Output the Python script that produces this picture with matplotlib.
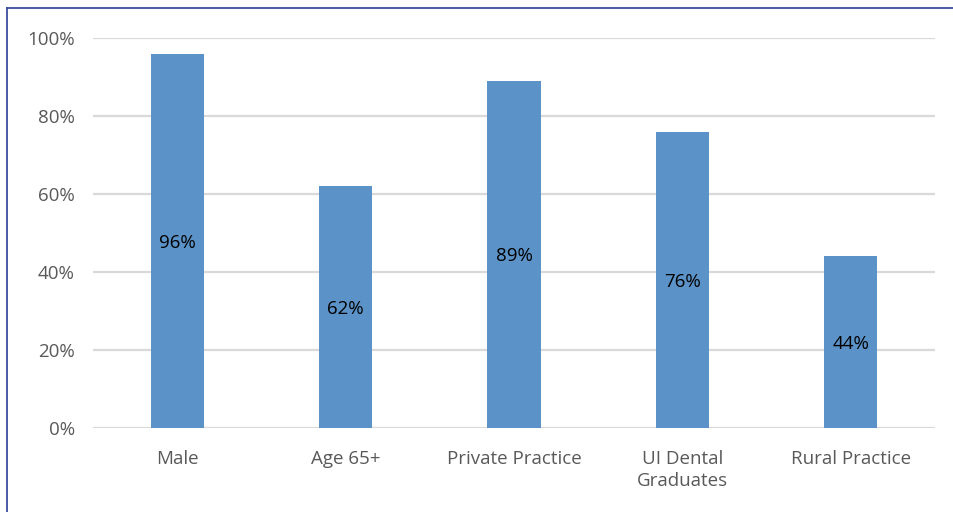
import matplotlib.pyplot as plt
from matplotlib.lines import Line2D

categories = ['Male', 'Age 65+', 'Private Practice', 'UI Dental\nGraduates', 'Rural Practice']
values = [96, 62, 89, 76, 44]
yticks = [0, 20, 40, 60, 80, 100]

plt.rcParams['font.family'] = ['Open Sans', 'DejaVu Sans']

fig = plt.figure(figsize=(9.54, 5.12), dpi=100)
ax = fig.add_axes([93 / 954, 1 - 428 / 512, 842 / 954, 390 / 512])

x = range(len(categories))
bars = ax.bar(x, values, width=0.315, color='#5B93C8', zorder=3)
for b, v in zip(bars, values):
    ax.text(b.get_x() + b.get_width() / 2, v / 2 - 0.5, '{}%'.format(v),
            ha='center', va='center', fontsize=13.5, color='black', zorder=4)

ax.set_xlim(-0.5, len(categories) - 0.5)
ax.set_ylim(0, 100)
ax.set_yticks(yticks)
ax.set_yticklabels(['{}%'.format(t) for t in yticks])
ax.set_xticks(list(x))
ax.set_xticklabels(categories, linespacing=1.3)
ax.tick_params(axis='both', length=0, colors='#595959', labelsize=13.5)
ax.tick_params(axis='y', pad=13)
ax.tick_params(axis='x', pad=16)
ax.yaxis.grid(True, color='#D9D9D9', linewidth=1.6, zorder=0)
for s in ax.spines.values():
    s.set_visible(False)

# outer frame, visible on left and top only
fig.add_artist(Line2D([7.5 / 954, 7.5 / 954], [0, 1 - 7.5 / 512], color='#3B4E9C', linewidth=1.3))
fig.add_artist(Line2D([7.5 / 954, 1], [1 - 7.5 / 512, 1 - 7.5 / 512], color='#3B4E9C', linewidth=1.3))

fig.savefig('out.png', dpi=100)
